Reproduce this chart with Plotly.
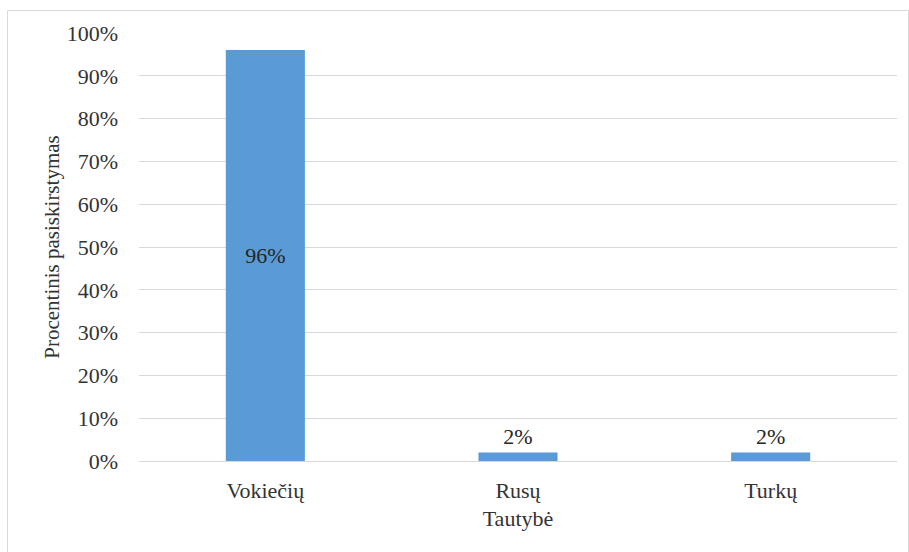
import plotly.graph_objects as go

# Nationality distribution (share of respondents)
categories = ["Vokiečių", "Rusų", "Turkų"]
shares = [0.96, 0.02, 0.02]
value_labels = ["96%", "2%", "2%"]
label_positions = ["inside", "outside", "outside"]

FONT = "Liberation Serif, Times New Roman, serif"
TEXT = "#333333"
GRID = "#d9d9d9"
SIZE = 22

fig = go.Figure(
    go.Bar(
        x=categories,
        y=shares,
        width=0.313,
        marker=dict(color="#5b9bd5", line=dict(width=0)),
        text=value_labels,
        textposition=label_positions,
        insidetextanchor="middle",
        textfont=dict(family=FONT, size=SIZE, color="#262626"),
        cliponaxis=False,
    )
)

L, R, T, B = 139, 12, 33, 91
W, H = 909, 552
pw, ph = W - L - R, H - T - B


def px_x(x):
    return (x - L) / pw


def px_y(y):
    return (H - B - y) / ph


fig.add_shape(
    type="rect", xref="paper", yref="paper",
    x0=px_x(7.5), x1=px_x(908.5), y0=px_y(600), y1=px_y(10.5),
    line=dict(color=GRID, width=1), fillcolor="rgba(0,0,0,0)", layer="below",
)

fig.update_layout(
    width=W, height=H,
    margin=dict(l=L, r=R, t=T, b=B),
    paper_bgcolor="white", plot_bgcolor="white",
    showlegend=False,
    font=dict(family=FONT, size=SIZE, color=TEXT),
    xaxis=dict(
        title=dict(text="Tautybė", font=dict(family=FONT, size=SIZE, color=TEXT), standoff=8),
        showgrid=False, showline=False, ticks="", ticklen=0, ticklabelstandoff=14,
        tickfont=dict(family=FONT, size=SIZE, color=TEXT),
    ),
    yaxis=dict(
        title=dict(text="Procentinis pasiskirstymas", font=dict(family=FONT, size=21, color=TEXT), standoff=1),
        range=[0, 1], dtick=0.1, tickformat=".0%",
        showgrid=True, gridcolor=GRID, gridwidth=1,
        zeroline=True, zerolinecolor=GRID, zerolinewidth=1,
        showline=False, ticks="", ticklabelstandoff=20,
        tickfont=dict(family=FONT, size=SIZE, color=TEXT),
    ),
)

fig.write_html("out.html")
